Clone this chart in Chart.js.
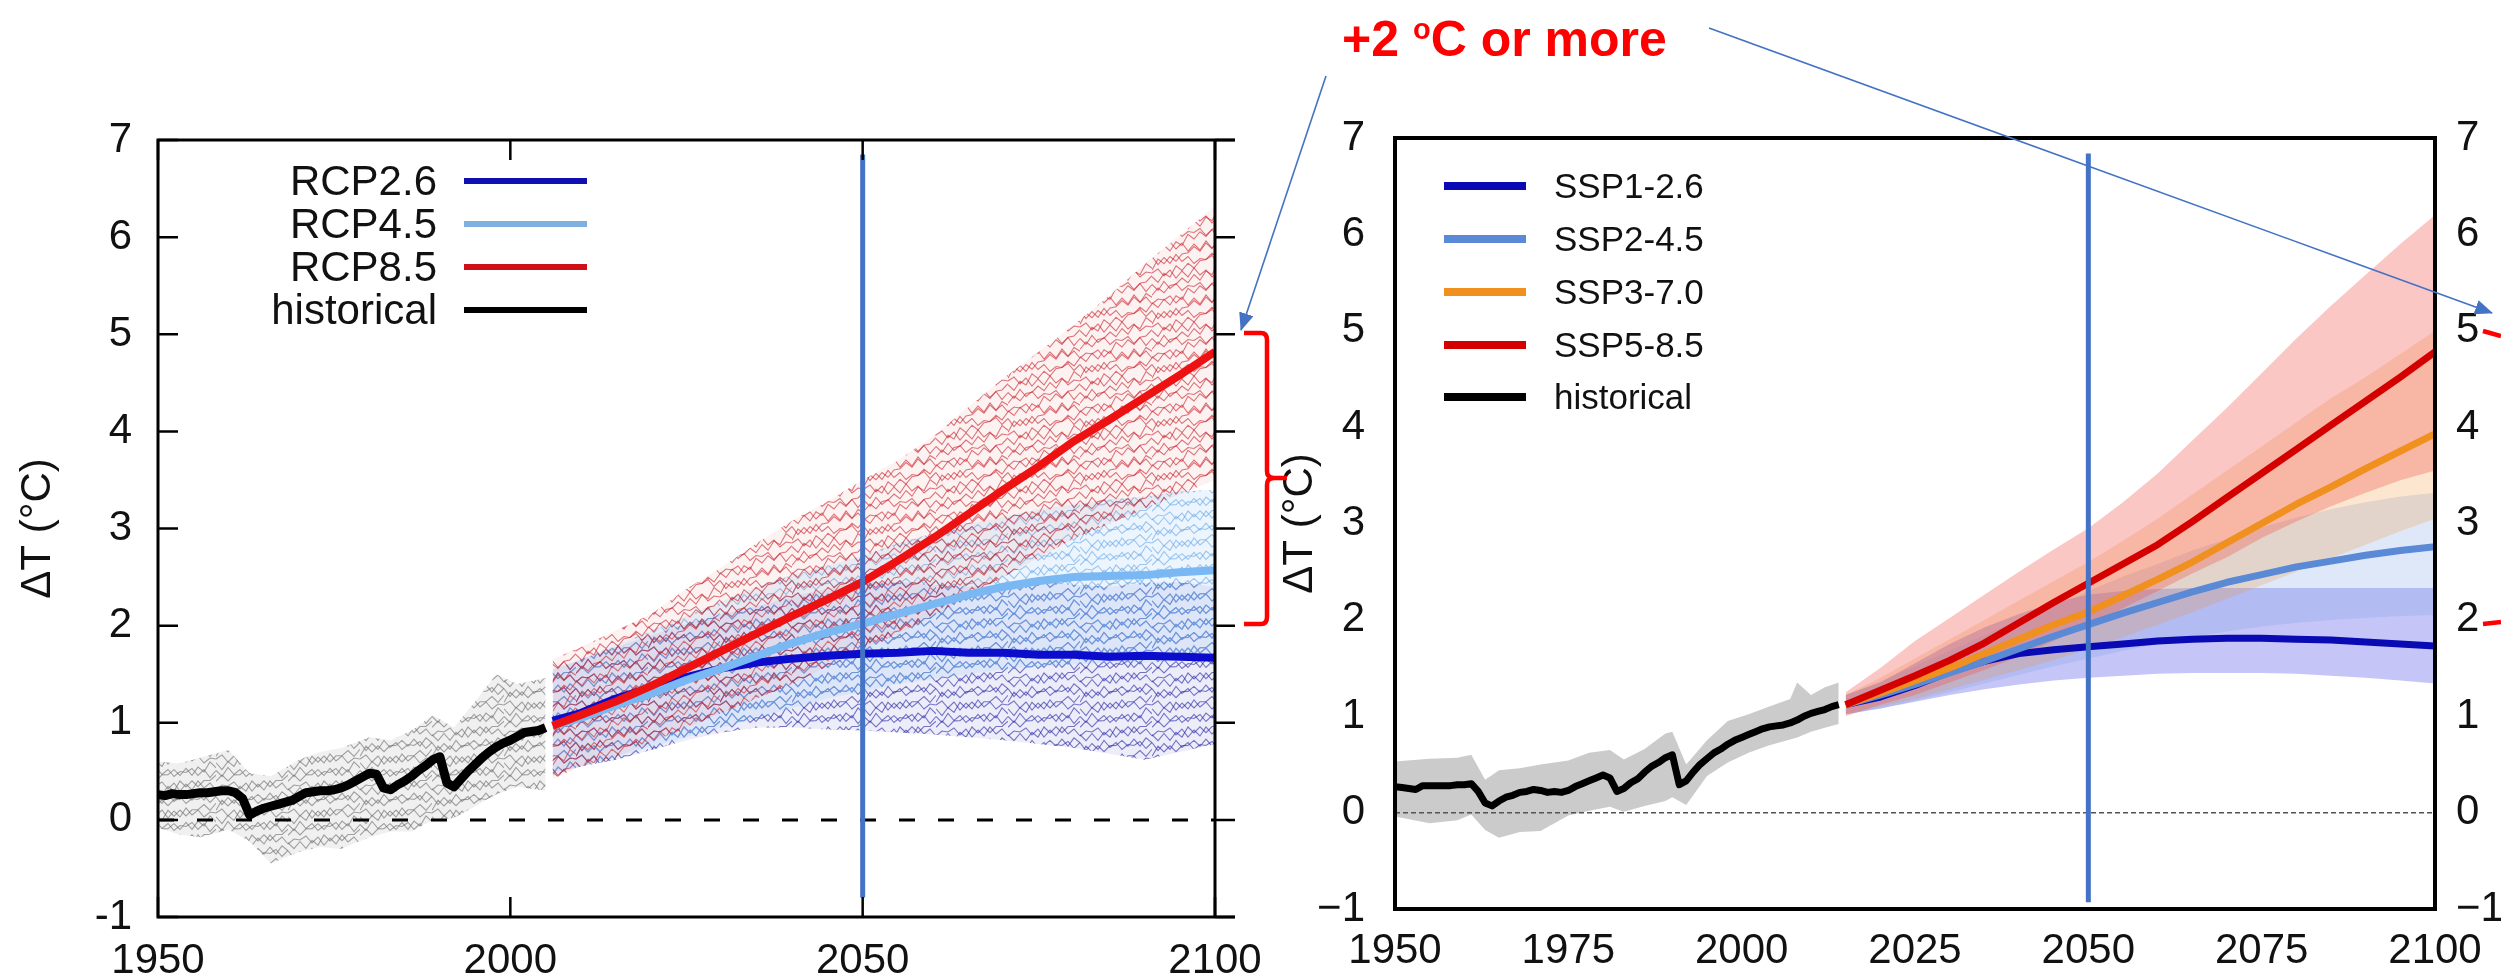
<!DOCTYPE html>
<html>
<head>
<meta charset="utf-8">
<title>Warming projections CMIP5 / CMIP6</title>
<script src="https://cdn.jsdelivr.net/npm/chart.js@4.4.0/dist/chart.umd.min.js"></script>
<style>
  html, body { margin: 0; padding: 0; background: #fff; }
  #page { position: relative; width: 2501px; height: 980px; overflow: hidden;
          font-family: 'Liberation Sans', Arial, sans-serif; color: #111; }
  canvas { position: absolute; top: 0; }
  #cmip5 { left: 0; }
  #cmip6 { left: 1250px; }
  .legend { position: absolute; z-index: 3; }
  .legend .row { display: flex; align-items: center; white-space: nowrap; }
  #legend5 { left: 170px; top: 159px; font-size: 42px; }
  #legend5 .row { height: 43px; }
  #legend5 .label { width: 267px; text-align: right; }
  #legend5 .swatch { width: 123px; height: 6px; margin-left: 27px; }
  #legend6 { left: 1444px; top: 160px; font-size: 35px; }
  #legend6 .row { height: 52.75px; }
  #legend6 .swatch { width: 82px; height: 8px; margin-right: 28px; }
  #note { position: absolute; left: 1342px; top: 14px; z-index: 4; color: #f00; font-weight: bold;
          font-size: 50px; line-height: 50px; white-space: nowrap; }
  #note sup { font-size: 29px; vertical-align: 17px; line-height: 0; }
  #marks { position: absolute; left: 0; top: 0; z-index: 5; pointer-events: none; }
</style>
</head>
<body>
<div id="page">
  <canvas id="cmip5" width="1290" height="980"></canvas>
  <canvas id="cmip6" width="1251" height="980"></canvas>
  <div id="legend5" class="legend"></div>
  <div id="legend6" class="legend"></div>
  <div id="note">+2 <sup>o</sup>C or more</div>
  <svg id="marks" width="2501" height="980" viewBox="0 0 2501 980">
    <defs>
      <marker id="head" markerUnits="userSpaceOnUse" markerWidth="18" markerHeight="15" refX="17" refY="7.5" orient="auto">
        <path d="M0,0 L18,7.5 L0,15 z" fill="#4472c4"></path>
      </marker>
    </defs>
    <line x1="1326" y1="76" x2="1241" y2="330" stroke="#4472c4" stroke-width="1.6" marker-end="url(#head)"></line>
    <line x1="1709" y1="28" x2="2492" y2="313" stroke="#4472c4" stroke-width="1.6" marker-end="url(#head)"></line>
    <path d="M1244,333 H1261 Q1267,333 1267,340 V471 Q1267,478 1274,478 H1287 M1274,478 Q1267,478 1267,485 V617 Q1267,624 1261,624 H1244"
          stroke="#f00" stroke-width="4.5" fill="none"></path>
    <path d="M2483,331 L2501,336 M2483,624 L2501,622" stroke="#f00" stroke-width="4.5" fill="none"></path>
  </svg>
</div>

<script>
// ---------- shared ticks ----------
const yTicks = [-1, 0, 1, 2, 3, 4, 5, 6, 7];
const cmip5YearTicks = [1950, 2000, 2050, 2100];
const cmip6YearTicks = [1950, 1975, 2000, 2025, 2050, 2075, 2100];
const markerYear = 2050;

// ---------- left panel: CMIP5 (RCP) ----------
const cmip5HistYears = [1950, 1951, 1952, 1953, 1954, 1955, 1956, 1957, 1958, 1959,
  1960, 1961, 1962, 1963, 1964, 1965, 1966, 1967, 1968, 1969,
  1970, 1971, 1972, 1973, 1974, 1975, 1976, 1977, 1978, 1979,
  1980, 1981, 1982, 1983, 1984, 1985, 1986, 1987, 1988, 1989,
  1990, 1991, 1992, 1993, 1994, 1995, 1996, 1997, 1998, 1999,
  2000, 2001, 2002, 2003, 2004, 2005];
const cmip5HistMean = [0.26, 0.25, 0.27, 0.26, 0.26, 0.27, 0.28, 0.28, 0.29, 0.30,
  0.30, 0.28, 0.22, 0.05, 0.09, 0.12, 0.14, 0.16, 0.18, 0.20,
  0.24, 0.28, 0.29, 0.30, 0.30, 0.31, 0.33, 0.36, 0.40, 0.44,
  0.48, 0.47, 0.33, 0.31, 0.36, 0.40, 0.45, 0.51, 0.56, 0.62,
  0.65, 0.38, 0.34, 0.42, 0.50, 0.57, 0.64, 0.70, 0.75, 0.79,
  0.82, 0.86, 0.90, 0.91, 0.92, 0.95];
const cmip5SpreadYears = [1950, 1953, 1956, 1960, 1963, 1966, 1970, 1973, 1976, 1980,
  1983, 1986, 1989, 1992, 1995, 1998, 2001, 2005];
const cmip5HistUpper = [0.60, 0.58, 0.64, 0.72, 0.48, 0.45, 0.62, 0.70, 0.74, 0.85,
  0.82, 0.92, 1.08, 0.95, 1.22, 1.50, 1.40, 1.46];
const cmip5HistLower = [-0.08, -0.15, -0.18, -0.10, -0.22, -0.45, -0.33, -0.28, -0.30, -0.18,
  -0.12, -0.12, 0.00, 0.02, 0.14, 0.26, 0.34, 0.30];

const rcpNames = ['RCP2.6', 'RCP4.5', 'RCP8.5', 'historical'];
const rcpYears = [2006, 2010, 2015, 2020, 2025, 2030, 2035, 2040, 2045, 2050,
  2055, 2060, 2065, 2070, 2075, 2080, 2085, 2090, 2095, 2100];
const rcp26Mean = [1.02, 1.10, 1.25, 1.36, 1.47, 1.56, 1.62, 1.66, 1.69, 1.71,
  1.72, 1.74, 1.72, 1.72, 1.70, 1.70, 1.68, 1.69, 1.68, 1.67];
const rcp26Upper = [1.55, 1.65, 1.78, 1.90, 2.02, 2.12, 2.20, 2.30, 2.38, 2.45,
  2.45, 2.42, 2.40, 2.42, 2.45, 2.42, 2.40, 2.44, 2.45, 2.40];
const rcp26Lower = [0.48, 0.55, 0.62, 0.72, 0.82, 0.90, 0.95, 0.95, 0.93, 0.92,
  0.90, 0.88, 0.85, 0.82, 0.78, 0.74, 0.68, 0.62, 0.70, 0.78];
const rcp45Mean = [0.97, 1.05, 1.18, 1.30, 1.44, 1.56, 1.69, 1.82, 1.93, 2.02,
  2.12, 2.22, 2.32, 2.40, 2.46, 2.50, 2.51, 2.52, 2.55, 2.57];
const rcp45Upper = [1.55, 1.65, 1.80, 1.95, 2.10, 2.25, 2.40, 2.52, 2.62, 2.72,
  2.85, 2.95, 3.05, 3.12, 3.20, 3.25, 3.30, 3.33, 3.38, 3.40];
const rcp45Lower = [0.45, 0.55, 0.65, 0.75, 0.85, 0.95, 1.05, 1.15, 1.25, 1.32,
  1.40, 1.45, 1.50, 1.55, 1.58, 1.60, 1.62, 1.62, 1.64, 1.65];
const rcp85Mean = [0.97, 1.08, 1.22, 1.38, 1.56, 1.74, 1.92, 2.10, 2.27, 2.45,
  2.67, 2.90, 3.15, 3.40, 3.64, 3.90, 4.12, 4.35, 4.58, 4.82];
const rcp85Upper = [1.65, 1.78, 1.95, 2.12, 2.38, 2.60, 2.85, 3.08, 3.28, 3.50,
  3.70, 3.95, 4.25, 4.55, 4.82, 5.10, 5.40, 5.72, 6.02, 6.32];
const rcp85Lower = [0.42, 0.55, 0.65, 0.80, 0.95, 1.10, 1.25, 1.40, 1.58, 1.75,
  1.92, 2.10, 2.30, 2.50, 2.70, 2.90, 3.05, 3.20, 3.35, 3.50];

// ---------- right panel: CMIP6 (SSP) ----------
const cmip6HistYears = [1950, 1951, 1952, 1953, 1954, 1955, 1956, 1957, 1958, 1959,
  1960, 1961, 1962, 1963, 1964, 1965, 1966, 1967, 1968, 1969,
  1970, 1971, 1972, 1973, 1974, 1975, 1976, 1977, 1978, 1979,
  1980, 1981, 1982, 1983, 1984, 1985, 1986, 1987, 1988, 1989,
  1990, 1991, 1992, 1993, 1994, 1995, 1996, 1997, 1998, 1999,
  2000, 2001, 2002, 2003, 2004, 2005, 2006, 2007, 2008, 2009,
  2010, 2011, 2012, 2013, 2014];
const cmip6HistMean = [0.27, 0.26, 0.25, 0.24, 0.28, 0.28, 0.28, 0.28, 0.28, 0.29,
  0.29, 0.30, 0.22, 0.10, 0.07, 0.12, 0.16, 0.18, 0.21, 0.22,
  0.24, 0.23, 0.21, 0.22, 0.21, 0.23, 0.27, 0.30, 0.33, 0.36,
  0.39, 0.36, 0.22, 0.25, 0.31, 0.35, 0.42, 0.48, 0.52, 0.57,
  0.60, 0.29, 0.33, 0.42, 0.50, 0.56, 0.62, 0.66, 0.71, 0.75,
  0.78, 0.81, 0.84, 0.87, 0.89, 0.90, 0.91, 0.93, 0.96, 1.00,
  1.03, 1.05, 1.07, 1.10, 1.12];
const cmip6SpreadYears = [1950, 1955, 1959, 1961, 1963, 1965, 1968, 1971, 1975, 1978,
  1981, 1983, 1986, 1989, 1990, 1992, 1995, 1998, 2001, 2004,
  2007, 2008, 2010, 2012, 2014];
const cmip6HistUpper = [0.53, 0.56, 0.57, 0.60, 0.34, 0.44, 0.46, 0.50, 0.54, 0.62,
  0.65, 0.55, 0.66, 0.82, 0.84, 0.50, 0.75, 0.95, 1.02, 1.10,
  1.18, 1.35, 1.22, 1.30, 1.35];
const cmip6HistLower = [-0.04, -0.11, -0.08, -0.02, -0.18, -0.26, -0.20, -0.19, -0.03, 0.02,
  0.06, 0.01, 0.07, 0.12, 0.16, 0.08, 0.38, 0.52, 0.62, 0.70,
  0.76, 0.78, 0.84, 0.88, 0.92];

const sspNames = ['SSP1-2.6', 'SSP2-4.5', 'SSP3-7.0', 'SSP5-8.5', 'historical'];
const sspYears = [2015, 2020, 2025, 2030, 2035, 2040, 2045, 2050, 2055, 2060,
  2065, 2070, 2075, 2080, 2085, 2090, 2095, 2100];
const ssp126Mean = [1.12, 1.20, 1.32, 1.46, 1.57, 1.65, 1.69, 1.72, 1.75, 1.78,
  1.80, 1.81, 1.81, 1.80, 1.79, 1.77, 1.75, 1.73];
const ssp126Upper = [1.22, 1.35, 1.55, 1.75, 1.92, 2.06, 2.18, 2.26, 2.30, 2.32,
  2.33, 2.33, 2.33, 2.33, 2.33, 2.33, 2.33, 2.33];
const ssp126Lower = [1.02, 1.08, 1.15, 1.22, 1.28, 1.33, 1.37, 1.40, 1.42, 1.44,
  1.45, 1.45, 1.45, 1.44, 1.42, 1.40, 1.37, 1.34];
const ssp245Mean = [1.12, 1.22, 1.33, 1.45, 1.57, 1.70, 1.83, 1.95, 2.07, 2.18,
  2.29, 2.39, 2.47, 2.55, 2.61, 2.67, 2.72, 2.76];
const ssp245Upper = [1.22, 1.36, 1.52, 1.68, 1.84, 2.00, 2.15, 2.30, 2.45, 2.58,
  2.72, 2.84, 2.96, 3.06, 3.15, 3.22, 3.28, 3.32];
const ssp245Lower = [1.02, 1.08, 1.16, 1.25, 1.34, 1.43, 1.52, 1.60, 1.68, 1.75,
  1.82, 1.88, 1.93, 1.97, 2.00, 2.02, 2.04, 2.05];
const ssp370Mean = [1.12, 1.24, 1.37, 1.50, 1.65, 1.80, 1.95, 2.08, 2.25, 2.42,
  2.60, 2.80, 3.00, 3.20, 3.38, 3.57, 3.75, 3.93];
const ssp370Upper = [1.22, 1.40, 1.60, 1.80, 2.00, 2.20, 2.40, 2.60, 2.82, 3.05,
  3.30, 3.55, 3.80, 4.05, 4.30, 4.52, 4.76, 5.00];
const ssp370Lower = [1.02, 1.10, 1.18, 1.28, 1.38, 1.48, 1.58, 1.70, 1.82, 1.95,
  2.08, 2.22, 2.36, 2.50, 2.64, 2.78, 2.92, 3.05];
const ssp585Mean = [1.12, 1.27, 1.42, 1.58, 1.76, 1.97, 2.18, 2.38, 2.58, 2.78,
  3.02, 3.27, 3.52, 3.77, 4.02, 4.27, 4.52, 4.78];
const ssp585Upper = [1.25, 1.50, 1.78, 2.02, 2.26, 2.50, 2.73, 2.95, 3.22, 3.52,
  3.86, 4.20, 4.56, 4.92, 5.26, 5.58, 5.90, 6.20];
const ssp585Lower = [1.00, 1.12, 1.22, 1.35, 1.48, 1.62, 1.78, 1.95, 2.12, 2.30,
  2.48, 2.65, 2.85, 3.02, 3.18, 3.32, 3.45, 3.55];

// ---------- helpers ----------
Chart.defaults.font.family = "'Liberation Sans', Arial, sans-serif";
Chart.defaults.color = '#111';

const pts = (xs, ys) => xs.map((x, i) => ({ x: x, y: ys[i] }));

function lineSet(data, color, width, order, extra) {
  return Object.assign({
    data: data, borderColor: color, borderWidth: width, pointRadius: 0,
    fill: false, order: order, tension: 0, borderJoinStyle: 'round'
  }, extra || {});
}

function bandSets(xs, lower, upper, fillStyle, order) {
  return [
    { data: pts(xs, lower), borderColor: 'rgba(0,0,0,0)', borderWidth: 0, pointRadius: 0, fill: false, order: order },
    { data: pts(xs, upper), borderColor: 'rgba(0,0,0,0)', borderWidth: 0, pointRadius: 0, fill: '-1',
      backgroundColor: fillStyle, order: order }
  ];
}

// texture of thin zig-zag strokes, stands in for the many single model runs
// rise must be a multiple of 13.5 so the tile wraps cleanly
function meshPattern(base, stroke, rise) {
  const W = 72, H = 54;
  const c = document.createElement('canvas');
  c.width = W; c.height = H;
  const g = c.getContext('2d');
  g.fillStyle = base;
  g.fillRect(0, 0, W, H);
  g.strokeStyle = stroke;
  g.lineWidth = 1.1;
  const wiggle = [0, -4, 3, -3, 5, -2, 4, -5, 2, -3, 4, -1];
  [0, rise].forEach((r, f) => {
    for (let row = 0; row < 4; row++) {
      const y0 = row * 13.5 + 3 + f * 6.75;
      for (const wrap of [-H, 0, H]) {
        g.beginPath();
        for (let k = 0; k <= 12; k++) {
          const y = y0 + wrap - r * k / 12 + wiggle[(k + row * 5 + f * 3) % 12];
          if (k === 0) g.moveTo(k * 6, y); else g.lineTo(k * 6, y);
        }
        g.stroke();
      }
    }
  });
  return g.createPattern(c, 'repeat');
}

const framePlugin = {
  id: 'frame',
  afterDatasetsDraw(chart, args, opts) {
    const { ctx, chartArea: a, scales } = chart;
    ctx.save();
    ctx.strokeStyle = '#000';
    ctx.lineWidth = opts.width;
    ctx.beginPath();
    ctx.moveTo(a.left, a.top); ctx.lineTo(a.right + opts.extend, a.top);
    ctx.moveTo(a.left, a.bottom); ctx.lineTo(a.right + opts.extend, a.bottom);
    ctx.moveTo(a.left, a.top - opts.width / 2); ctx.lineTo(a.left, a.bottom + opts.width / 2);
    ctx.moveTo(a.right, a.top - opts.width / 2); ctx.lineTo(a.right, a.bottom + opts.width / 2);
    ctx.stroke();
    if (opts.tickLen > 0) {
      const len = opts.tickLen;
      ctx.lineWidth = opts.tickWidth;
      ctx.beginPath();
      scales.y.ticks.forEach(t => {
        const py = scales.y.getPixelForValue(t.value);
        ctx.moveTo(a.left, py); ctx.lineTo(a.left + len, py);
        ctx.moveTo(a.right, py); ctx.lineTo(a.right + len, py);
      });
      scales.x.ticks.forEach(t => {
        const px = scales.x.getPixelForValue(t.value);
        ctx.moveTo(px, a.bottom); ctx.lineTo(px, a.bottom - len);
        ctx.moveTo(px, a.top); ctx.lineTo(px, a.top + len);
      });
      ctx.stroke();
    }
    ctx.restore();
  }
};

function yScale(position, width, padding, labelFn, title) {
  return {
    type: 'linear', position: position, min: -1, max: 7,
    afterBuildTicks: s => { s.ticks = yTicks.map(v => ({ value: v })); },
    afterFit: s => { s.width = width; },
    grid: { display: false, drawTicks: false },
    border: { display: false },
    ticks: { font: { size: 42 }, color: '#111', padding: padding, callback: labelFn },
    title: title
  };
}

function xScale(yearTicks, height, padding) {
  return {
    type: 'linear', position: 'bottom', min: 1950, max: 2100,
    afterBuildTicks: s => { s.ticks = yearTicks.map(v => ({ value: v })); },
    afterFit: s => { s.height = height; },
    grid: { display: false, drawTicks: false },
    border: { display: false },
    ticks: { font: { size: 42 }, color: '#111', padding: padding, maxRotation: 0, autoSkip: false,
             callback: v => String(v) }
  };
}

// ---------- left chart ----------
const rcpColors = ['#0c0ccc', '#79b8f2', '#ee1111', '#000000'];
const rcpLegendColors = ['#1010b0', '#80b0e0', '#d01018', '#000000'];

const leftSets = [].concat(
  [lineSet(pts([markerYear, markerYear], [-0.8, 6.85]), '#4472c4', 5, 0)],
  [lineSet(pts(cmip5HistYears, cmip5HistMean), '#000', 9, 1)],
  [lineSet(pts(rcpYears, rcp85Mean), rcpColors[2], 8, 2)],
  [lineSet(pts(rcpYears, rcp45Mean), rcpColors[1], 8, 3)],
  [lineSet(pts(rcpYears, rcp26Mean), rcpColors[0], 8, 4)],
  [lineSet(pts([1950, 2100], [0, 0]), '#000', 3, 5, { borderDash: [16, 23] })],
  bandSets(rcpYears, rcp85Lower, rcp85Upper, meshPattern('rgba(235,90,90,0.08)', 'rgba(200,35,45,0.62)', 27), 6),
  bandSets(rcpYears, rcp45Lower, rcp45Upper, meshPattern('rgba(150,200,245,0.18)', 'rgba(100,165,230,0.6)', 13.5), 7),
  bandSets(rcpYears, rcp26Lower, rcp26Upper, meshPattern('rgba(80,80,210,0.10)', 'rgba(40,40,165,0.62)', 13.5), 8),
  bandSets(cmip5SpreadYears, cmip5HistLower, cmip5HistUpper, meshPattern('rgba(150,150,150,0.14)', 'rgba(110,110,110,0.62)', 13.5), 9)
);

new Chart(document.getElementById('cmip5'), {
  type: 'line',
  data: { datasets: leftSets },
  options: {
    responsive: false, animation: false, devicePixelRatio: 1, events: [],
    layout: { padding: { top: 140, right: 75, left: 0, bottom: 0 } },
    scales: {
      x: xScale(cmip5YearTicks, 63, 19),
      y: yScale('left', 158, 26, v => String(v),
        { display: true, text: 'ΔT (°C)', font: { size: 42 }, color: '#111', padding: { top: 13, bottom: 0 } })
    },
    plugins: {
      legend: { display: false }, tooltip: { enabled: false },
      frame: { width: 3, extend: 20, tickLen: 20, tickWidth: 2.5 }
    }
  },
  plugins: [framePlugin]
});

// ---------- right chart ----------
const sspColors = ['#0a0ab4', '#5a8ad6', '#f0901e', '#d40000', '#000000'];
const minusLabel = v => (v < 0 ? '\u2212' + Math.abs(v) : String(v));

const rightSets = [].concat(
  [lineSet(pts([markerYear, markerYear], [-0.93, 6.84]), '#4472c4', 5, 0)],
  [lineSet(pts(sspYears, ssp585Mean), sspColors[3], 7, 1)],
  [lineSet(pts(sspYears, ssp370Mean), sspColors[2], 7, 2)],
  [lineSet(pts(sspYears, ssp245Mean), sspColors[1], 7, 3)],
  [lineSet(pts(sspYears, ssp126Mean), sspColors[0], 7, 4)],
  [lineSet(pts(cmip6HistYears, cmip6HistMean), '#000', 7, 5)],
  [lineSet(pts([1950, 2100], [0, 0]), '#555', 1.5, 6, { borderDash: [5, 3] })],
  bandSets(sspYears, ssp585Lower, ssp585Upper, 'rgba(240,80,70,0.32)', 7),
  bandSets(sspYears, ssp370Lower, ssp370Upper, 'rgba(240,140,40,0.22)', 8),
  bandSets(sspYears, ssp245Lower, ssp245Upper, 'rgba(110,150,225,0.22)', 9),
  bandSets(sspYears, ssp126Lower, ssp126Upper, 'rgba(80,80,230,0.33)', 10),
  bandSets(cmip6SpreadYears, cmip6HistLower, cmip6HistUpper, 'rgba(140,140,140,0.45)', 11)
);

new Chart(document.getElementById('cmip6'), {
  type: 'line',
  data: { datasets: rightSets },
  options: {
    responsive: false, animation: false, devicePixelRatio: 1, events: [],
    layout: { padding: { top: 138, right: 0, left: 0, bottom: 0 } },
    scales: {
      x: xScale(cmip6YearTicks, 71, 17),
      y: yScale('left', 145, 30, minusLabel,
        { display: true, text: 'ΔT (°C)', font: { size: 42 }, color: '#111', padding: { top: 25, bottom: 0 } }),
      y2: yScale('right', 66, 21, minusLabel, { display: false })
    },
    plugins: {
      legend: { display: false }, tooltip: { enabled: false },
      frame: { width: 4, extend: 0, tickLen: 0, tickWidth: 0 }
    }
  },
  plugins: [framePlugin]
});

// ---------- legends (HTML, built from the series names) ----------
function buildLegend(el, names, colors, swatchFirst) {
  names.forEach((name, i) => {
    const row = document.createElement('div');
    row.className = 'row';
    const label = document.createElement('span');
    label.className = 'label';
    label.textContent = name;
    const sw = document.createElement('span');
    sw.className = 'swatch';
    sw.style.background = colors[i];
    if (swatchFirst) { row.appendChild(sw); row.appendChild(label); }
    else { row.appendChild(label); row.appendChild(sw); }
    el.appendChild(row);
  });
}
buildLegend(document.getElementById('legend5'), rcpNames, rcpLegendColors, false);
buildLegend(document.getElementById('legend6'), sspNames, sspColors, true);
</script>
</body>
</html>
